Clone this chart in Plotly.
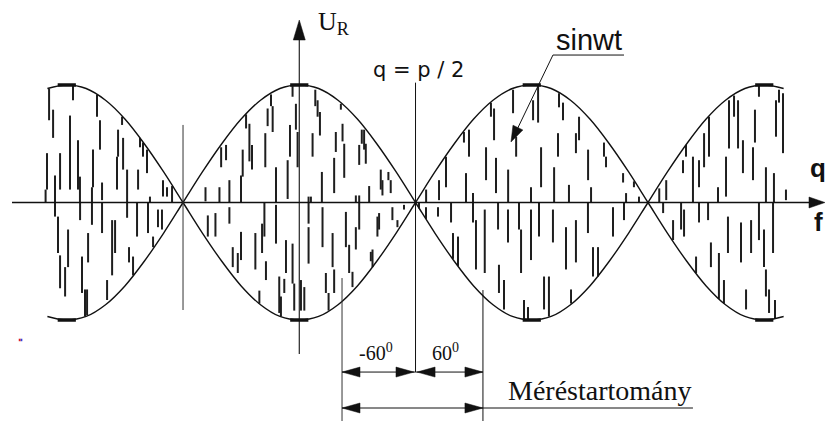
import math
import plotly.graph_objects as go

# Envelope of U_R over the phase angle (degrees), relative amplitude
env_theta = list(range(-195, 376, 15))
env_value = [-0.97, -1.0, -0.97, -0.87, -0.71, -0.5, -0.26, 0.0,
             0.26, 0.5, 0.71, 0.87, 0.97, 1.0, 0.97, 0.87, 0.71, 0.5, 0.26, 0.0,
             -0.26, -0.5, -0.71, -0.87, -0.97, -1.0, -0.97, -0.87, -0.71, -0.5, -0.26, 0.0,
             0.26, 0.5, 0.71, 0.87, 0.97, 1.0, 0.97]

# Envelope extremes (flat caps drawn on the crests)
peak_theta = [-180, 0, 180, 360]
peak_value = [1.0, 1.0, 1.0, 1.0]

# sinwt carrier strokes per lobe: (phase, upper end, lower end)
strokes_left = [
    (-196.4, 0.11, 0.0), (-195.3, 0.42, 0.11), (-193.7, 0.97, 0.70), (-190.6, 0.79, 0.55),
    (-189.1, 0.23, 0.0), (-185.2, 0.42, 0.11), (-177.5, 0.74, 0.11), (-175.2, 1.0, 0.87),
    (-171.3, 0.53, 0.11), (-169.8, 0.22, 0.0), (-160.5, 0.13, 0.0), (-159.7, 0.45, 0.13),
    (-156.6, 0.92, 0.73), (-154.3, 0.70, 0.45), (-152.7, 0.17, 0.02), (-141.1, 0.39, 0.11),
    (-140.3, 0.62, 0.39), (-137.2, 0.73, 0.66), (-136.4, 0.55, 0.28), (-133.3, 0.28, 0.0),
    (-124.8, 0.28, 0.11), (-123.3, 0.55, 0.47), (-121.0, 0.51, 0.39), (-117.9, 0.45, 0.25),
    (-115.6, 0.05, 0.0), (-105.5, 0.19, 0.05), (-102.4, 0.13, 0.05), (-98.5, 0.14, 0.0),
    (-189.1, 0.0, -0.12), (-186.8, -0.12, -0.43), (-185.2, -0.45, -0.73), (-181.3, -0.55, -0.80),
    (-179.0, -0.23, -0.55), (-169.7, 0.0, -0.15), (-168.2, -0.46, -0.77), (-165.9, -0.74, -0.97),
    (-164.3, -0.74, -0.96), (-163.5, -0.26, -0.51), (-160.5, 0.0, -0.19), (-152.7, 0.0, -0.26),
    (-148.8, -0.66, -0.83), (-144.9, -0.15, -0.62), (-142.6, -0.15, -0.43), (-133.3, 0.0, -0.13),
    (-131.8, -0.38, -0.51), (-128.7, -0.46, -0.62), (-125.6, 0.0, -0.29), (-117.1, 0.0, -0.26),
    (-113.2, -0.29, -0.38), (-109.4, -0.06, -0.21), (-106.3, -0.06, -0.23),
]
strokes_centre = [
    (-72.6, 0.13, 0.01), (-61.8, 0.13, 0.0), (-60.5, 0.47, 0.30), (-56.7, 0.49, 0.36),
    (-54.1, 0.19, 0.0), (-45.1, 0.23, 0.0), (-43.8, 0.45, 0.22), (-41.2, 0.75, 0.63),
    (-38.6, 0.67, 0.35), (-36.6, 0.49, 0.28), (-26.3, 0.59, 0.30), (-24.5, 0.80, 0.65),
    (-21.9, 0.92, 0.82), (-20.6, 0.82, 0.60), (-18.0, 0.30, 0.0), (-9.0, 0.36, 0.03),
    (-7.2, 0.66, 0.39), (-5.2, 0.99, 0.90), (-2.6, 0.84, 0.62), (-1.3, 0.60, 0.30),
    (9.0, 0.05, 0.0), (10.3, 0.59, 0.39), (12.4, 0.96, 0.82), (14.2, 0.87, 0.73),
    (16.0, 0.77, 0.57), (17.5, 0.26, 0.0), (27.0, 0.38, 0.08), (28.3, 0.60, 0.43),
    (32.2, 0.84, 0.79), (33.5, 0.67, 0.52), (34.8, 0.50, 0.21), (43.8, 0.06, 0.0),
    (46.4, 0.49, 0.32), (48.4, 0.62, 0.50), (50.2, 0.62, 0.45), (51.5, 0.50, 0.33),
    (54.1, 0.14, 0.0), (63.1, 0.28, 0.11), (64.4, 0.19, 0.06), (69.0, 0.26, 0.19),
    (70.8, 0.19, 0.08),
    (-70.8, -0.11, -0.29), (-64.9, -0.09, -0.29), (-54.1, -0.04, -0.18), (-51.5, -0.38, -0.55),
    (-47.6, -0.43, -0.60), (-45.1, -0.25, -0.49), (-34.0, -0.26, -0.57), (-30.9, -0.75, -0.86),
    (-28.8, -0.18, -0.43), (-27.0, 0.0, -0.29), (-25.8, -0.50, -0.66), (-18.0, -0.02, -0.35),
    (-15.5, -0.63, -0.94), (-14.2, -0.80, -0.97), (-11.6, -0.65, -0.77), (-10.3, -0.32, -0.60),
    (-5.2, -0.35, -0.69), (-3.9, -0.69, -0.92), (1.3, -0.66, -0.92), (3.9, -0.72, -0.92),
    (7.2, 0.05, -0.18), (7.2, -0.21, -0.52), (18.0, -0.04, -0.38), (20.6, -0.60, -0.77),
    (22.7, -0.77, -0.92), (25.8, -0.26, -0.55), (27.0, -0.57, -0.77), (36.1, -0.08, -0.38),
    (38.6, -0.36, -0.60), (41.2, -0.59, -0.72), (43.8, -0.21, -0.40), (46.4, 0.06, -0.23),
    (55.4, -0.42, -0.50), (56.7, -0.40, -0.55), (60.5, -0.12, -0.29), (61.8, -0.09, -0.23),
    (72.1, -0.04, -0.15), (76.0, -0.15, -0.21), (81.1, -0.02, -0.06),
]
strokes_right = [
    (98.2, 0.11, 0.0), (108.2, 0.19, 0.02), (113.6, 0.39, 0.13), (127.5, 0.60, 0.51),
    (129.1, 0.25, 0.0), (131.4, 0.62, 0.39), (134.5, 0.08, 0.0), (144.6, 0.47, 0.19),
    (148.4, 0.85, 0.73), (150.8, 0.80, 0.53), (152.3, 0.38, 0.08), (161.7, 0.28, 0.0),
    (165.5, 0.96, 0.76), (167.9, 0.56, 0.39), (179.4, 0.13, 0.0), (181.0, 0.87, 0.70),
    (184.9, 0.99, 0.68), (187.2, 0.47, 0.13), (197.3, 0.30, 0.0), (200.3, 0.59, 0.39),
    (201.1, 0.93, 0.81), (204.2, 0.85, 0.70), (208.8, 0.15, 0.0), (214.2, 0.59, 0.42),
    (216.6, 0.73, 0.53), (223.6, 0.45, 0.19), (225.9, 0.13, 0.0), (235.9, 0.51, 0.39),
    (237.5, 0.39, 0.30), (250.7, 0.25, 0.17), (253.0, 0.08, 0.0), (259.1, 0.18, 0.13),
    (263.0, 0.05, 0.0),
    (92.7, 0.0, -0.05), (98.1, -0.04, -0.14), (107.4, -0.04, -0.12), (117.5, 0.0, -0.17),
    (119.0, -0.26, -0.48), (122.9, -0.29, -0.54), (134.5, 0.0, -0.17), (136.8, -0.15, -0.57),
    (143.6, -0.06, -0.60), (153.9, 0.0, -0.23), (154.6, -0.53, -0.77), (158.5, -0.66, -0.91),
    (161.6, -0.06, -0.34), (170.1, 0.0, -0.23), (171.7, -0.23, -0.60), (174.0, -0.83, -0.99),
    (177.1, -0.89, -1.0), (179.4, -0.06, -0.49), (185.6, 0.0, -0.29), (189.5, -0.63, -0.91),
    (193.3, -0.63, -0.97), (196.4, -0.06, -0.34), (206.5, -0.21, -0.57), (210.4, -0.74, -0.86),
    (214.2, -0.15, -0.51), (223.5, 0.0, -0.26), (227.4, -0.38, -0.63), (231.3, -0.38, -0.63),
    (242.9, -0.04, -0.29), (251.4, 0.0, -0.15),
]
strokes_far = [
    (278.7, 0.12, 0.0), (284.1, 0.19, 0.02), (297.1, 0.36, 0.25), (299.4, 0.49, 0.39),
    (304.8, 0.39, 0.0), (309.5, 0.36, 0.13), (313.4, 0.59, 0.30), (317.2, 0.73, 0.39),
    (324.2, 0.13, 0.0), (330.4, 0.39, 0.05), (332.7, 0.87, 0.46), (336.6, 0.91, 0.73),
    (339.7, 0.87, 0.46), (343.5, 0.53, 0.25), (351.3, 0.47, 0.19), (352.8, 0.79, 0.51),
    (355.9, 1.0, 0.90), (361.3, 0.30, 0.0), (367.5, 0.25, 0.0), (369.1, 0.87, 0.56),
    (371.4, 0.96, 0.85), (374.5, 0.93, 0.42), (376.8, 0.11, 0.02),
    (281.7, 0.0, -0.09), (289.4, -0.15, -0.32), (295.6, 0.0, -0.23), (297.9, -0.06, -0.29),
    (307.2, -0.46, -0.60), (309.5, 0.0, -0.17), (316.5, 0.0, -0.15), (318.7, -0.34, -0.55),
    (324.9, -0.43, -0.82), (328.8, -0.66, -0.86), (331.9, -0.12, -0.43), (342.0, -0.17, -0.51),
    (345.9, -0.74, -0.91), (349.8, -0.15, -0.43), (355.9, 0.0, -0.32), (359.8, -0.23, -0.55),
    (361.3, -0.57, -0.80), (363.7, -0.74, -0.94), (366.8, 0.0, -0.43), (368.3, -0.83, -0.99),
]

INK = "#111111"
X_RANGE = [-231.7, 407.8]
Y_RANGE = [-1.8596, 1.7234]

fig = go.Figure()

# carrier strokes as one broken line
sx, sy = [], []
for t, hi, lo in strokes_left + strokes_centre + strokes_right + strokes_far:
    sx += [t, t, None]
    sy += [hi, lo, None]
fig.add_trace(go.Scatter(x=sx, y=sy, mode="lines", line=dict(color="#1e1e1e", width=2),
                         hoverinfo="skip", showlegend=False))

# envelope +cos and -cos
fig.add_trace(go.Scatter(x=env_theta, y=env_value, mode="lines",
                         line=dict(color=INK, width=1.4, shape="spline"), showlegend=False))
fig.add_trace(go.Scatter(x=env_theta, y=[-v for v in env_value], mode="lines",
                         line=dict(color=INK, width=1.4, shape="spline"), showlegend=False))
fig.add_trace(go.Scatter(x=peak_theta + peak_theta, y=peak_value + [-v for v in peak_value],
                         mode="markers",
                         marker=dict(symbol="line-ew", size=13, line=dict(color=INK, width=3.5)),
                         showlegend=False))


def seg(x0, y0, x1, y1, width=1.2, color=INK):
    return dict(type="line", xref="x", yref="y", x0=x0, y0=y0, x1=x1, y1=y1,
                line=dict(color=color, width=width), layer="above")


def head(x, y, ang, length=17, half=5):
    """Filled arrowhead, tip at (x, y), pointing at screen angle ang (deg, y up)."""
    a = math.radians(ang)
    ux, uy = math.cos(a), math.sin(a)
    px, py = -uy, ux
    bx, by = -length * ux, -length * uy
    pts = [(0.0, 0.0), (bx + half * px, by + half * py), (bx - half * px, by - half * py)]
    path = "M " + " L ".join(f"{p[0]:.2f},{p[1]:.2f}" for p in pts) + " Z"
    return dict(type="path", xref="x", yref="y", xsizemode="pixel", ysizemode="pixel",
                xanchor=x, yanchor=y, path=path, fillcolor=INK,
                line=dict(color=INK, width=0.5), layer="above")


shapes = []
# phase axis with arrow
shapes.append(seg(-222.4, 0, 395, 0, 1.3))
shapes.append(head(407.0, 0, 0, length=16, half=5.5))
# U_R axis with arrow
shapes.append(seg(0, -1.289, 0, 1.40, 1.1))
shapes.append(head(0, 1.553, 90, length=20, half=6))
# marker lines
shapes.append(seg(-90, 0.66, -90, -0.915, 1.0, "#333333"))
shapes.append(seg(90, 1.02, 90, -1.443, 1.0))
shapes.append(seg(33.1, -0.643, 33.1, -1.87, 1.0, "#333333"))
shapes.append(seg(142.2, -0.745, 142.2, -1.87, 1.0))
# dimension arrows: -60 / 60 degrees
y1 = -1.443
shapes.append(seg(33.1, y1, 90, y1, 1.0))
shapes.append(seg(90, y1, 142.2, y1, 1.0))
shapes += [head(33.1, y1, 180, 18, 5), head(88.8, y1, 0, 18, 5),
           head(91.2, y1, 180, 18, 5), head(142.2, y1, 0, 18, 5)]
# measuring range
y2 = -1.749
shapes.append(seg(33.1, y2, 304.8, y2, 1.0))
shapes += [head(33.1, y2, 180, 18, 5), head(142.2, y2, 0, 18, 5)]
# sinwt leader
shapes.append(seg(196.4, 1.255, 251.4, 1.255, 1.0))
shapes.append(seg(196.4, 1.255, 165.5, 0.55, 1.0))
shapes.append(head(163.9, 0.515, -115.8, 16, 5.5))
# small colour speck
shapes.append(seg(-217.2, -1.17, -215.7, -1.17, 2.5, "#e02020"))
shapes.append(seg(-215.7, -1.17, -214.4, -1.17, 2.5, "#3040e0"))

SERIF = "Liberation Serif, Times New Roman, serif"
SANS = "Liberation Sans, Arial, sans-serif"

annotations = [
    dict(x=13.0, y=1.53, text="U<sub>R</sub>", xanchor="left", yanchor="middle",
         font=dict(family=SERIF, size=26, color=INK)),
    dict(x=92.6, y=1.13, text="q = p / 2", xanchor="center", yanchor="middle",
         font=dict(family="DejaVu Sans, sans-serif", size=21, color=INK)),
    dict(x=224.3, y=1.38, text="sinwt", xanchor="center", yanchor="middle",
         font=dict(family=SANS, size=29, color=INK)),
    dict(x=393.5, y=0.29, text="<b>q</b>", xanchor="left", yanchor="middle",
         font=dict(family=SANS, size=26, color=INK)),
    dict(x=397.0, y=-0.17, text="<b>f</b>", xanchor="left", yanchor="middle",
         font=dict(family=SANS, size=26, color=INK)),
    dict(x=45.0, y=-1.27, text="-60<sup>0</sup>", xanchor="left", yanchor="middle",
         font=dict(family=SERIF, size=20, color=INK)),
    dict(x=101.0, y=-1.27, text="60<sup>0</sup>", xanchor="left", yanchor="middle",
         font=dict(family=SERIF, size=20, color=INK)),
    dict(x=232.8, y=-1.60, text="Méréstartomány", xanchor="center", yanchor="middle",
         font=dict(family=SERIF, size=28, color=INK)),
]
for a in annotations:
    a.update(xref="x", yref="y", showarrow=False)

fig.update_layout(
    width=826, height=421, margin=dict(l=0, r=0, t=0, b=0),
    paper_bgcolor="white", plot_bgcolor="white",
    xaxis=dict(range=X_RANGE, visible=False, fixedrange=True),
    yaxis=dict(range=Y_RANGE, visible=False, fixedrange=True),
    shapes=shapes, annotations=annotations, showlegend=False,
)

fig.write_html("out.html")
